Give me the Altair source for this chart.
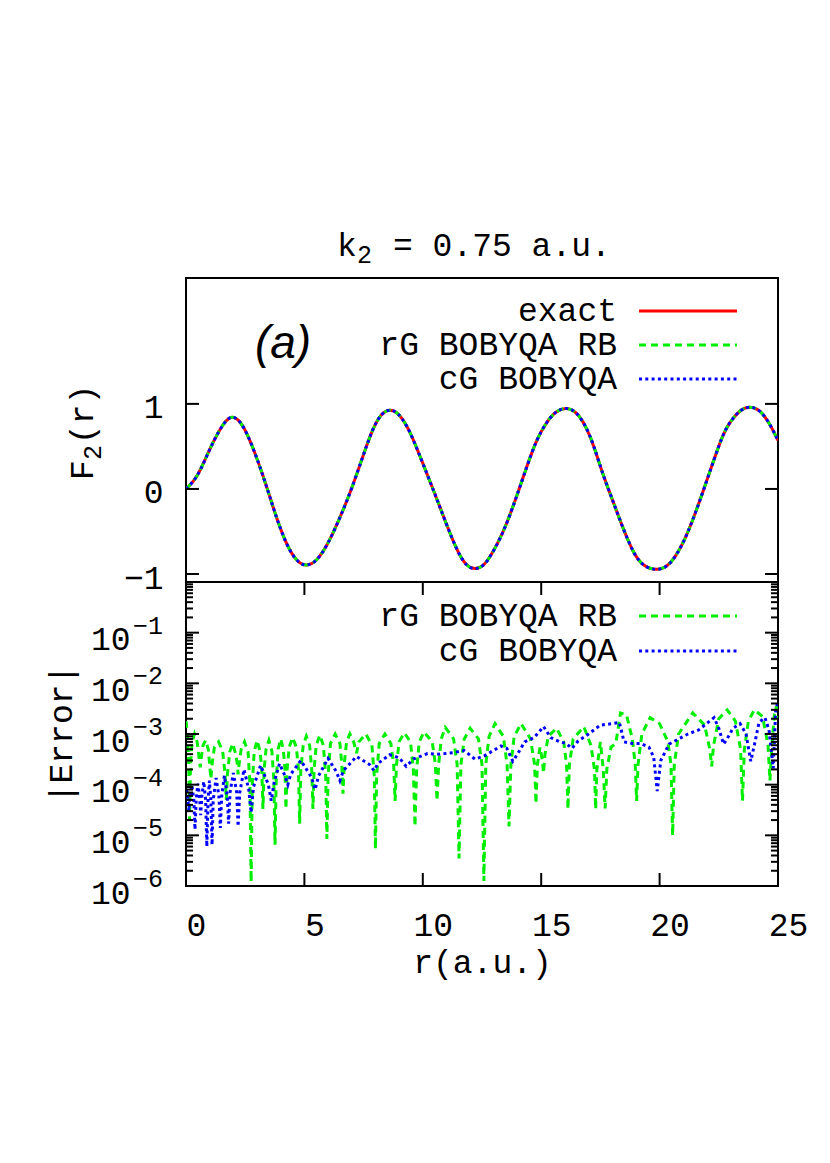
import altair as alt
import pandas as pd

# ---------------- data ----------------
R_EXACT = [0.0, 0.3, 0.6, 1.0, 1.4, 1.7, 1.95, 2.25, 2.55, 2.85, 3.2, 3.55, 3.95, 4.4, 4.8,
           5.1, 5.5, 6.0, 6.5, 7.0, 7.5, 7.9, 8.25, 8.6, 8.95, 9.35, 9.75, 10.2, 10.6, 11.0,
           11.5, 11.85, 12.2, 12.55, 12.85, 13.4, 13.95, 14.4, 14.8, 15.25, 15.65, 16.05, 16.5,
           16.9, 17.2, 17.6, 18.0, 18.45, 18.9, 19.3, 19.9, 20.45, 21.0, 21.4, 21.85, 22.3,
           22.7, 23.0, 23.4, 23.8, 24.25, 24.65, 25.0]
F_EXACT = [0.0, 0.08, 0.21, 0.47, 0.69, 0.81, 0.86, 0.81, 0.67, 0.47, 0.20, -0.10, -0.45, -0.75,
           -0.88, -0.905, -0.86, -0.65, -0.34, 0.0, 0.41, 0.72, 0.89, 0.94, 0.90, 0.74, 0.48,
           0.16, -0.12, -0.42, -0.76, -0.91, -0.95, -0.91, -0.80, -0.52, -0.10, 0.27, 0.58,
           0.80, 0.92, 0.96, 0.91, 0.73, 0.53, 0.17, -0.12, -0.46, -0.76, -0.91, -0.965, -0.90,
           -0.64, -0.37, -0.02, 0.35, 0.66, 0.80, 0.93, 0.975, 0.93, 0.77, 0.57]

GREEN_R = [0.00, 0.07, 0.12, 0.15, 0.19, 0.26, 0.36, 0.47, 0.55, 0.60, 0.65, 0.72, 0.83, 0.94,
           1.00, 1.05, 1.10, 1.20, 1.38, 1.55, 1.65, 1.70, 1.75, 1.85, 1.97, 2.10, 2.17, 2.20,
           2.24, 2.33, 2.47, 2.62, 2.70, 2.75, 2.80, 2.88, 3.00, 3.13, 3.20, 3.25, 3.30, 3.38,
           3.50, 3.63, 3.71, 3.76, 3.81, 3.89, 4.00, 4.11, 4.18, 4.22, 4.27, 4.36, 4.50, 4.66,
           4.75, 4.80, 4.85, 4.95, 5.08, 5.22, 5.31, 5.36, 5.41, 5.50, 5.65, 5.80, 5.90, 5.95,
           6.00, 6.10, 6.30, 6.50, 6.58, 6.63, 6.68, 6.78, 6.92, 7.08, 7.20, 7.30, 7.60, 7.85,
           7.95, 8.00, 8.05, 8.16, 8.40, 8.65, 8.77, 8.83, 8.89, 9.00, 9.22, 9.48, 9.60, 9.67,
           9.74, 9.85, 10.05, 10.40, 10.53, 10.60, 10.67, 10.78, 10.95, 11.30, 11.45, 11.53,
           11.61, 11.75, 12.00, 12.35, 12.50, 12.58, 12.66, 12.80, 13.05, 13.40, 13.56, 13.64,
           13.72, 13.86, 14.15, 14.55, 14.72, 14.78, 14.84, 14.95, 15.05, 15.10, 15.16, 15.30,
           15.65, 15.95, 16.07, 16.13, 16.19, 16.35, 16.80, 17.10, 17.25, 17.30, 17.35, 17.50,
           17.62, 17.70, 17.77, 17.95, 18.15, 18.35, 18.60, 18.85, 18.97, 19.03, 19.09, 19.25,
           19.60, 20.00, 20.35, 20.48, 20.55, 20.62, 20.80, 21.40, 21.90, 22.12, 22.20, 22.28,
           22.50, 22.85, 23.20, 23.42, 23.50, 23.58, 23.75, 24.00, 24.35, 24.58, 24.66, 24.74,
           24.85, 24.93, 25.00]
GREEN_E = [1.8e-3, 9e-4, 2e-4, 2e-5, 2.5e-4, 7e-4, 1.0e-3, 7e-4, 3.5e-4, 2.2e-4, 3.5e-4, 6e-4,
           7.5e-4, 5e-4, 2.5e-4, 1.3e-4, 2.5e-4, 5.5e-4, 7e-4, 4.5e-4, 1.6e-4, 5e-5, 1.6e-4,
           4.5e-4, 6.5e-4, 4e-4, 2.5e-4, 1.6e-4, 2.5e-4, 5e-4, 7e-4, 4.5e-4, 1e-4, 1.2e-6,
           1e-4, 4.5e-4, 7.5e-4, 4.5e-4, 2e-4, 3.3e-5, 2e-4, 5e-4, 7.5e-4, 4.5e-4, 1.2e-4,
           6.5e-6, 1.2e-4, 5e-4, 8e-4, 5e-4, 2e-4, 3.3e-5, 2e-4, 5.5e-4, 8.5e-4, 5.5e-4, 2e-4,
           1.7e-5, 2e-4, 6e-4, 9e-4, 6e-4, 2e-4, 3.3e-5, 2e-4, 6e-4, 9.5e-4, 6e-4, 1.5e-4,
           8.5e-6, 1.5e-4, 6.5e-4, 1.0e-3, 6.5e-4, 2.5e-4, 6.6e-5, 2.5e-4, 7e-4, 1.0e-3, 7e-4,
           4.2e-4, 7e-4, 1.0e-3, 6e-4, 1.5e-4, 5.4e-6, 1.5e-4, 6.5e-4, 1.0e-3, 6.5e-4, 2.5e-4,
           4.8e-5, 2.5e-4, 7e-4, 1.05e-3, 7e-4, 2e-4, 1.5e-5, 2e-4, 7e-4, 1.1e-3, 7e-4, 2.5e-4,
           4.8e-5, 2.5e-4, 8e-4, 1.35e-3, 8e-4, 2.5e-4, 3.5e-6, 2.5e-4, 8e-4, 1.3e-3, 8e-4,
           2.5e-4, 1.26e-6, 2.5e-4, 9e-4, 1.6e-3, 9e-4, 2.5e-4, 1.5e-5, 2.5e-4, 9e-4, 1.6e-3,
           8e-4, 2.5e-4, 4.2e-5, 2.5e-4, 5.5e-4, 3e-4, 1.7e-4, 4e-4, 9e-4, 1.3e-3, 7e-4, 2.5e-4,
           3.3e-5, 2.5e-4, 8e-4, 1.4e-3, 6e-4, 2e-4, 3.3e-5, 2e-4, 7e-4, 2e-4, 3.4e-5, 2e-4,
           5.5e-4, 6.5e-4, 2.6e-3, 2.4e-3, 8e-4, 2.5e-4, 4.8e-5, 2.5e-4, 1e-3, 2.1e-3, 1.6e-3,
           7e-4, 2.5e-4, 1e-5, 2.5e-4, 1e-3, 2.6e-3, 1.5e-3, 5e-4, 2.3e-4, 6e-4, 2e-3, 3e-3,
           1.8e-3, 5e-4, 4.8e-5, 5e-4, 1.8e-3, 3e-3, 2.2e-3, 6e-4, 1.2e-4, 6e-4, 2.5e-3,
           3.5e-3, 2e-3]

BLUE_R = [0.00, 0.06, 0.12, 0.18, 0.25, 0.33, 0.38, 0.43, 0.50, 0.57, 0.62, 0.67, 0.75, 0.83,
          0.88, 0.93, 0.99, 1.05, 1.10, 1.15, 1.27, 1.39, 1.45, 1.51, 1.62, 1.74, 1.80, 1.86,
          2.00, 2.14, 2.20, 2.27, 2.45, 2.65, 2.75, 2.85, 3.15, 3.48, 3.60, 3.72, 3.95, 4.18,
          4.30, 4.42, 4.85, 5.30, 5.45, 5.60, 6.00, 6.35, 6.50, 6.65, 7.20, 7.75, 7.94, 8.10,
          8.60, 9.00, 9.30, 9.60, 10.20, 10.70, 11.30, 11.75, 12.20, 12.60, 13.30, 13.55, 13.80,
          14.00, 14.30, 14.70, 15.10, 15.40, 15.80, 16.05, 16.30, 16.55, 17.00, 17.50, 18.00,
          18.30, 18.50, 18.85, 19.20, 19.55, 19.75, 19.90, 20.05, 20.40, 20.80, 21.20, 21.65,
          22.05, 22.30, 22.50, 22.70, 22.85, 23.10, 23.40, 23.65, 23.85, 24.00, 24.20, 24.45,
          24.62, 24.80, 24.90, 25.00]
BLUE_E = [8e-5, 7e-5, 3e-5, 7e-5, 1.0e-4, 5e-5, 1.3e-5, 5e-5, 1.05e-4, 6e-5, 2.5e-5, 6e-5,
          1.15e-4, 5e-5, 6e-6, 5e-5, 1.2e-4, 5e-5, 6.5e-6, 5e-5, 1.35e-4, 6e-5, 1.4e-5, 6e-5,
          1.5e-4, 6e-5, 1.7e-5, 7e-5, 1.7e-4, 7e-5, 1.5e-5, 7e-5, 2e-4, 8e-5, 2.8e-5, 9e-5,
          2.4e-4, 1e-4, 4.8e-5, 1.1e-4, 2.6e-4, 1.5e-4, 1e-4, 1.6e-4, 3e-4, 1.4e-4, 8e-5,
          1.5e-4, 3.3e-4, 1.8e-4, 1.2e-4, 1.9e-4, 3.6e-4, 2.5e-4, 1.9e-4, 2.6e-4, 3.9e-4,
          3.4e-4, 2.3e-4, 3.2e-4, 4.1e-4, 4.0e-4, 4.3e-4, 4.7e-4, 3.2e-4, 3.7e-4, 5.8e-4,
          5.2e-4, 2.9e-4, 4e-4, 7e-4, 8.5e-4, 1.4e-3, 8.5e-4, 7e-4, 6.5e-4, 5.2e-4, 7.2e-4,
          1.0e-3, 1.5e-3, 1.6e-3, 1.7e-3, 7e-4, 6.5e-4, 6.5e-4, 5.5e-4, 3.5e-4, 7.5e-5, 3e-4,
          6.3e-4, 8e-4, 1e-3, 1.2e-3, 1.7e-3, 2.1e-3, 1.3e-3, 6.3e-4, 8e-4, 1.3e-3, 1.6e-3,
          1e-3, 2.9e-4, 6e-4, 1.7e-3, 2.1e-3, 1.2e-3, 2.1e-4, 2.8e-3, 4.5e-3]

X_TICKS = [0, 5, 10, 15, 20, 25]
X_INNER_TICKS = [5, 10, 15, 20]
TOP_Y_TICKS = [-1, 0, 1]
LOG_DECADES = [1e-6, 1e-5, 1e-4, 1e-3, 1e-2, 1e-1]
LOG_EXPONENTS = ["\u22126", "\u22125", "\u22124", "\u22123", "\u22122", "\u22121"]
MINOR_MULT = [2, 3, 4, 5, 6, 7, 8, 9]

TOP_LEGEND = ["exact", "rG BOBYQA RB", "cG BOBYQA"]
BOT_LEGEND = ["rG BOBYQA RB", "cG BOBYQA"]

# ---------------- styling ----------------
W, H = 592, 304
MONO = "Courier New, Liberation Mono, monospace"
SANS = "Liberation Sans, Arial, sans-serif"
FS = 33
RED, GREEN, BLUE = "#ff0000", "#00ee00", "#0000ff"
DASH_G = [7, 5]
DASH_B = [3, 3.3]
LW = 3
TL = 13  # major tick length
TLm = 7  # minor tick length

xscale = alt.Scale(domain=[0, 25], nice=False, zero=False)
yscale_top = alt.Scale(domain=[-1.094, 2.48], nice=False, zero=False)
yscale_bot = alt.Scale(type="log", domain=[1e-6, 1], nice=False)

AX_TOP_Y = alt.Axis(
    values=TOP_Y_TICKS, ticks=False, domain=False, grid=False, labelPadding=23, labelOffset=4,
    labelFont=MONO, labelFontSize=FS, labelColor="black", title=None, format="d")
AX_BOT_X = alt.Axis(
    values=X_TICKS, ticks=False, domain=False, grid=False, labelPadding=23, labelOffset=10,
    labelFlush=False, labelOverlap=False, labelFont=MONO, labelFontSize=FS, labelColor="black",
    title="r(a.u.)", titleFont=MONO, titleFontSize=FS, titleFontWeight="normal",
    titleColor="black", titlePadding=4)
AX_BOT_Y = alt.Axis(
    values=LOG_DECADES, labelExpr="'10'", ticks=False, domain=False, grid=False,
    labelPadding=56, labelOffset=7, labelFont=MONO, labelFontSize=FS, labelColor="black",
    labelOverlap=False, title=None)


def one(v):
    return pd.DataFrame({"t": [v]})


def text(v, x, y, size=FS, align="left", font=MONO, angle=0, style="normal", baseline="middle"):
    return alt.Chart(one(v)).mark_text(
        align=align, baseline=baseline, font=font, fontSize=size, angle=angle,
        fontStyle=style, color="black"
    ).encode(text="t:N", x=alt.value(x), y=alt.value(y))


def legend_line(y, color, dash=None):
    kw = dict(color=color, strokeWidth=LW)
    if dash:
        kw["strokeDash"] = dash
    return alt.Chart(one(0)).mark_rule(**kw).encode(
        x=alt.value(453), x2=alt.value(551), y=alt.value(y))


# ---------------- top panel ----------------
top_df = pd.DataFrame({"r": R_EXACT, "F": F_EXACT})
tx = alt.X("r:Q", scale=xscale, axis=None)
ty = alt.Y("F:Q", scale=yscale_top, axis=AX_TOP_Y)
tbase = alt.Chart(top_df)
t_exact = tbase.mark_line(color=RED, strokeWidth=LW, interpolate="basis", clip=True).encode(x=tx, y=ty)
t_rg = tbase.mark_line(color=GREEN, strokeWidth=LW, strokeDash=DASH_G, interpolate="basis", clip=True).encode(x=tx, y=ty)
t_cg = tbase.mark_line(color=BLUE, strokeWidth=LW, strokeDash=DASH_B, interpolate="basis", clip=True).encode(x=tx, y=ty)

tt = alt.Chart(pd.DataFrame({"v": TOP_Y_TICKS}))
tyv = alt.Y("v:Q", scale=yscale_top, axis=AX_TOP_Y)
t_tick_l = tt.mark_rule(color="black", strokeWidth=2).encode(y=tyv, x=alt.value(0), x2=alt.value(TL))
t_tick_r = tt.mark_rule(color="black", strokeWidth=2).encode(y=tyv, x=alt.value(W - TL), x2=alt.value(W))

top_layers = [t_exact, t_rg, t_cg, t_tick_l, t_tick_r]
for i, (lab, col, dash) in enumerate(zip(TOP_LEGEND, [RED, GREEN, BLUE], [None, DASH_G, DASH_B])):
    yy = 33 + 34 * i
    top_layers.append(text(lab, 431, yy, align="right"))
    top_layers.append(legend_line(yy, col, dash))

top_layers.append(text("(a)", 97, 66, size=46, align="center", font=SANS, style="italic"))
# title  k_2 = 0.75 a.u.
top_layers.append(text("k", 151, -32))
top_layers.append(text("2", 171, -23, size=25))
top_layers.append(text("= 0.75 a.u.", 207, -32))
# y title F_2(r), rotated
top_layers.append(text("F", -103, 202, angle=270))
top_layers.append(text("2", -93, 182, size=25, angle=270))
top_layers.append(text("(r)", -103, 166, angle=270))

top = alt.layer(*top_layers).properties(width=W, height=H)

# ---------------- bottom panel ----------------
g_df = pd.DataFrame({"r": GREEN_R, "E": GREEN_E})
b_df = pd.DataFrame({"r": BLUE_R, "E": BLUE_E})
bx = alt.X("r:Q", scale=xscale, axis=AX_BOT_X)
by = alt.Y("E:Q", scale=yscale_bot, axis=AX_BOT_Y)
b_green = alt.Chart(g_df).mark_line(color=GREEN, strokeWidth=LW, strokeDash=DASH_G, clip=True).encode(x=bx, y=by)
b_blue = alt.Chart(b_df).mark_line(color=BLUE, strokeWidth=LW, strokeDash=DASH_B, clip=True).encode(x=bx, y=by)

minor_vals = [m * d for d in LOG_DECADES for m in MINOR_MULT]
bmaj = alt.Chart(pd.DataFrame({"v": LOG_DECADES}))
bmin = alt.Chart(pd.DataFrame({"v": minor_vals}))
byv = alt.Y("v:Q", scale=yscale_bot, axis=AX_BOT_Y)
b_layers = [b_green, b_blue]
for ch, ln in [(bmaj, TL), (bmin, TLm)]:
    b_layers.append(ch.mark_rule(color="black", strokeWidth=2).encode(y=byv, x=alt.value(0), x2=alt.value(ln)))
    b_layers.append(ch.mark_rule(color="black", strokeWidth=2).encode(y=byv, x=alt.value(W - ln), x2=alt.value(W)))

bxt = alt.Chart(pd.DataFrame({"v": X_INNER_TICKS}))
bxv = alt.X("v:Q", scale=xscale, axis=AX_BOT_X)
b_layers.append(bxt.mark_rule(color="black", strokeWidth=2).encode(x=bxv, y=alt.value(H - TL), y2=alt.value(H)))
b_layers.append(bxt.mark_rule(color="black", strokeWidth=2).encode(x=bxv, y=alt.value(0), y2=alt.value(TL)))

exp_df = pd.DataFrame({"v": LOG_DECADES, "t": LOG_EXPONENTS})
b_layers.append(alt.Chart(exp_df).mark_text(
    align="left", baseline="middle", font=MONO, fontSize=25, dy=-7, color="black"
).encode(y=byv, x=alt.value(-53), text="t:N"))

for i, (lab, col, dash) in enumerate(zip(BOT_LEGEND, [GREEN, BLUE], [DASH_G, DASH_B])):
    yy = 34 + 35 * i
    b_layers.append(text(lab, 431, yy, align="right"))
    b_layers.append(legend_line(yy, col, dash))

b_layers.append(text("|Error|", -124, H / 2, align="center", angle=270))

bottom = alt.layer(*b_layers).properties(width=W, height=H)

chart = alt.vconcat(top, bottom, spacing=0, bounds="flush").properties(
    padding={"left": 37, "top": 221, "right": 5, "bottom": 5}
).configure_view(stroke="black", strokeWidth=2)

chart.save("out.html", embed_options={"renderer": "svg", "actions": False})
